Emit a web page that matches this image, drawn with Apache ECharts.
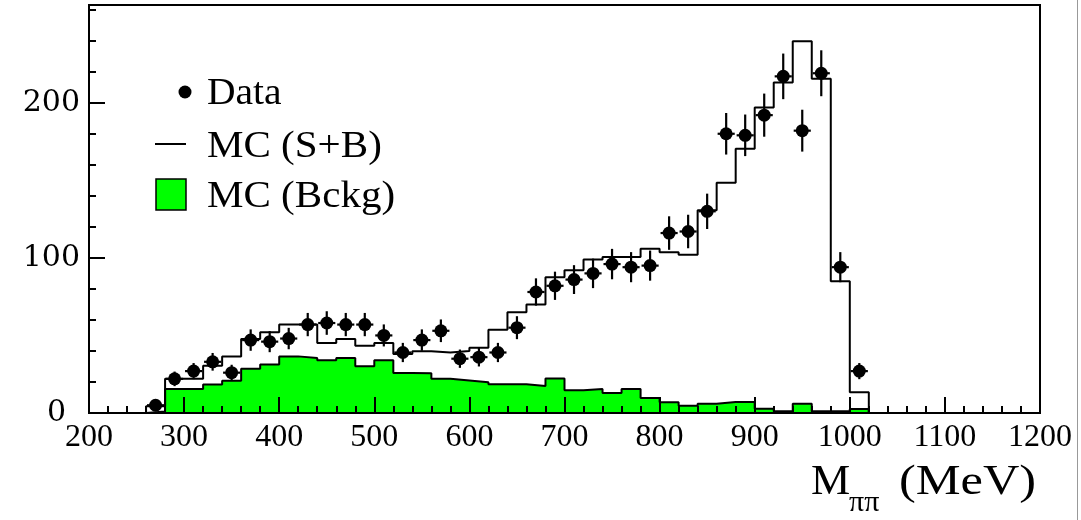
<!DOCTYPE html>
<html>
<head>
<meta charset="utf-8">
<script src="https://cdn.jsdelivr.net/npm/echarts@6/dist/echarts.min.js"></script>
<style>
html, body { margin: 0; padding: 0; background: #fff; }
#chart { width: 1081px; height: 520px; }
</style>
</head>
<body>
<div id="chart"></div>
<script>
// histogram bins (lower edge, MeV), 20 MeV wide
const binLow = [260, 280, 300, 320, 340, 360, 380, 400, 420, 440, 460, 480, 500, 520, 540, 560, 580, 600, 620,
  640, 660, 680, 700, 720, 740, 760, 780, 800, 820, 840, 860, 880, 900, 920, 940, 960, 980, 1000]
const binWidth = 20

// MC (S+B) total
const mcTotal = [4.3, 22, 22, 30.5, 36.5, 47.7, 52, 57, 57, 45.2, 47.7, 43.4, 45.2, 38, 39.8, 39, 40, 42, 53.7,
  65, 70, 87.5, 92, 99, 100.6, 100.6, 105.8, 103.6, 102, 130.7, 148.4, 170.3, 197, 213, 239.7, 215.5, 85, 13.3]

// MC background
const mcBckg = [1, 15.5, 15.5, 18.3, 20.8, 28.6, 31.2, 36.5, 35.5, 34, 35.5, 30.1, 34, 25.8, 25.6, 22, 21, 19.8, 18.5,
  18.5, 17.4, 22.3, 14.6, 15.5, 12.9, 15.5, 9.7, 7, 4.7, 6, 7.1, 7.1, 2.8, 1.2, 6, 1.2, 1.2, 2.6]

// data points and their errors
const dataVal = [5, 22, 27, 33, 26, 47, 46, 48, 57, 58, 57, 57, 50, 39, 47, 53, 35, 36, 39,
  55, 78, 82, 86, 90, 96, 94, 95, 116, 117, 130, 180, 179, 192, 217, 182, 219, 94, 27]
const dataErr = [2.2, 4.7, 5.2, 5.7, 5.1, 6.9, 6.8, 6.9, 7.5, 7.6, 7.5, 7.5, 7.1, 6.2, 6.9, 7.3, 5.9, 6, 6.2,
  7.4, 8.8, 9.1, 9.3, 9.5, 9.8, 9.7, 9.7, 10.8, 10.8, 11.4, 13.4, 13.4, 13.9, 14.7, 13.5, 14.8, 9.7, 5.2]

const serif = "'Liberation Serif', 'DejaVu Serif', serif"

const chart = echarts.init(document.getElementById('chart'))

const stepPoints = (vals) => {
  const last = vals.length - 1
  const pts = [[binLow[0], 0]]
  vals.forEach((v, i) => pts.push([binLow[i], v]))
  pts.push([binLow[last] + binWidth, vals[last]])
  pts.push([binLow[last] + binWidth, 0])
  return pts
}

const points = binLow.map((lo, i) => [lo + binWidth / 2, dataVal[i], dataErr[i]])

chart.setOption({
  animation: false,
  grid: {
    left: 89, right: 41, top: 5, bottom: 107,
    show: true, borderColor: '#000', borderWidth: 2, backgroundColor: 'transparent'
  },
  xAxis: {
    type: 'value', min: 200, max: 1200, interval: 100, z: 5,
    axisLine: { lineStyle: { color: '#000', width: 2 } },
    axisTick: { inside: true, length: 16, lineStyle: { color: '#000', width: 2 } },
    minorTick: { show: true, splitNumber: 5, length: 7, lineStyle: { color: '#000', width: 2 } },
    axisLabel: { color: '#000', fontFamily: serif, fontSize: 32, margin: 9, formatter: v => String(v) },
    splitLine: { show: false }
  },
  yAxis: [
    {
      type: 'value', min: 0, max: 263, interval: 100, z: 5,
      axisLine: { show: true, lineStyle: { color: '#000', width: 2 } },
      axisTick: { inside: true, length: 16, lineStyle: { color: '#000', width: 2 } },
      axisLabel: {
        color: '#000', fontFamily: "'DejaVu Serif', serif", fontSize: 30, margin: 9,
        showMaxLabel: false,
        formatter: v => v === 0 ? '{z|0}' : String(v),
        rich: { z: { padding: [0, 14, 0, 0], fontFamily: "'DejaVu Serif', serif", fontSize: 30, color: '#000' } }
      },
      splitLine: { show: false }
    },
    {
      type: 'value', min: 0, max: 263, interval: 20, position: 'left', z: 5,
      axisLine: { show: false },
      axisTick: { inside: true, length: 7, lineStyle: { color: '#000', width: 2 } },
      axisLabel: { show: false },
      splitLine: { show: false }
    }
  ],
  series: [
    {
      name: 'MC (Bckg)', type: 'line', step: 'end', symbol: 'none', z: 2,
      data: stepPoints(mcBckg),
      lineStyle: { color: '#000', width: 2 },
      areaStyle: { color: '#00ff00', opacity: 1 }
    },
    {
      name: 'MC (S+B)', type: 'line', step: 'end', symbol: 'none', z: 3,
      data: stepPoints(mcTotal),
      lineStyle: { color: '#000', width: 2 }
    },
    {
      name: 'Data', type: 'custom', z: 4,
      data: points,
      renderItem: (params, api) => {
        const x = api.value(0), y = api.value(1), e = api.value(2)
        const c = api.coord([x, y])
        const top = api.coord([x, y + e])
        const bot = api.coord([x, Math.max(0, y - e)])
        const l = api.coord([x - binWidth * 0.45, y])
        const r = api.coord([x + binWidth * 0.45, y])
        const st = { stroke: '#000', lineWidth: 2.2 }
        return {
          type: 'group',
          children: [
            { type: 'line', shape: { x1: c[0], y1: top[1], x2: c[0], y2: bot[1] }, style: st },
            { type: 'line', shape: { x1: l[0], y1: c[1], x2: r[0], y2: c[1] }, style: st },
            { type: 'circle', shape: { cx: c[0], cy: c[1], r: 6.5 }, style: { fill: '#000' } }
          ]
        }
      }
    }
  ],
  graphic: [
    // legend
    { type: 'circle', shape: { cx: 185, cy: 92, r: 6.5 }, style: { fill: '#000' } },
    { type: 'text', x: 207, y: 94, scaleX: 1.04,
      style: { text: 'Data', fontFamily: serif, fontSize: 38, fill: '#000', verticalAlign: 'middle' } },
    { type: 'line', shape: { x1: 155, y1: 144, x2: 186, y2: 144 }, style: { stroke: '#000', lineWidth: 2 } },
    { type: 'text', x: 207, y: 147, scaleX: 1.08,
      style: { text: 'MC (S+B)', fontFamily: serif, fontSize: 38, fill: '#000', verticalAlign: 'middle' } },
    { type: 'rect', shape: { x: 156, y: 179, width: 30, height: 31 },
      style: { fill: '#00ff00', stroke: '#000', lineWidth: 1.5 } },
    { type: 'text', x: 207, y: 197, scaleX: 1.08,
      style: { text: 'MC (Bckg)', fontFamily: serif, fontSize: 38, fill: '#000', verticalAlign: 'middle' } },
    // axis title
    { type: 'text', x: 811, y: 483, scaleX: 1.05,
      style: { text: 'M', fontFamily: serif, fontSize: 42, fill: '#000', verticalAlign: 'middle' } },
    { type: 'text', x: 849, y: 503,
      style: { text: 'ππ', fontFamily: serif, fontSize: 30, fill: '#000', verticalAlign: 'middle' } },
    { type: 'text', x: 899, y: 483, scaleX: 1.2,
      style: { text: '(MeV)', fontFamily: serif, fontSize: 42, fill: '#000', verticalAlign: 'middle' } },
    // scan edge line at far right
    { type: 'line', shape: { x1: 1077.5, y1: 0, x2: 1077.5, y2: 520 }, style: { stroke: '#999', lineWidth: 1 } }
  ]
})
</script>
</body>
</html>
